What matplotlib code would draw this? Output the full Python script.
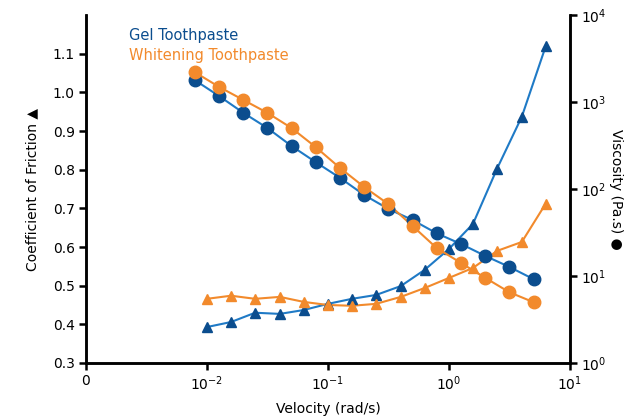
import numpy as np
import matplotlib
matplotlib.use("Agg")
import matplotlib.pyplot as plt

# ------------------ Datos ------------------

# velocidades (rad/s) de los puntos de viscosidad (circulos)
vel_visc = [0.0079, 0.0126, 0.020, 0.0316, 0.050, 0.079, 0.126, 0.20, 0.316,
            0.50, 0.79, 1.26, 2.0, 3.16, 5.0]
# velocidades (rad/s) de los puntos de friccion (triangulos)
vel_fric = [0.010, 0.0158, 0.025, 0.040, 0.063, 0.10, 0.158, 0.25, 0.40,
            0.63, 1.0, 1.58, 2.5, 4.0, 6.3]

visc_gel = [1790, 1170, 750, 502, 312, 204, 134, 85, 59, 44, 31, 23.3, 17.0, 12.7, 9.2]
visc_white = [2210, 1490, 1055, 750, 502, 304, 174, 105, 67, 37.6, 21.0, 14.1, 9.5, 6.5, 5.0]

fric_gel = [0.393, 0.406, 0.430, 0.427, 0.437, 0.453, 0.466, 0.476, 0.499,
            0.541, 0.595, 0.660, 0.803, 0.937, 1.119]
fric_white = [0.466, 0.474, 0.466, 0.471, 0.458, 0.450, 0.448, 0.453, 0.471,
              0.494, 0.520, 0.546, 0.590, 0.613, 0.712]

xticks = [1e-3, 1e-2, 1e-1, 1e0, 1e1]
xtick_labels = ["0", "$10^{-2}$", "$10^{-1}$", "$10^{0}$", "$10^{1}$"]
yticks_left = [0.3, 0.4, 0.5, 0.6, 0.7, 0.8, 0.9, 1.0, 1.1]
yticks_right = [1e0, 1e1, 1e2, 1e3, 1e4]
ytick_right_labels = ["$10^{0}$", "$10^{1}$", "$10^{2}$", "$10^{3}$", "$10^{4}$"]

# colores
azul_marca = "#0b4d8e"
azul_linea = "#1f7ac6"
naranja = "#f28a2c"


def main():
    plt.rcParams['font.family'] = ['DejaVu Sans']
    plt.rcParams['mathtext.fontset'] = 'dejavusans'

    fig = plt.figure(figsize=(6.35, 4.17), dpi=100)
    ax = fig.add_axes([0.1354, 0.1295, 0.7622, 0.8345])
    ax2 = ax.twinx()

    # Coeficiente de friccion (eje izquierdo, triangulos)
    ax.plot(vel_fric, fric_gel, color=azul_linea, lw=1.5, zorder=2)
    ax.plot(vel_fric, fric_gel, ls="none", marker="^", ms=7.5,
            color=azul_marca, zorder=3)
    ax.plot(vel_fric, fric_white, color=naranja, lw=1.5, zorder=2)
    ax.plot(vel_fric, fric_white, ls="none", marker="^", ms=7.5,
            color=naranja, zorder=3)

    # Viscosidad (eje derecho, circulos)
    ax2.plot(vel_visc, visc_gel, color=azul_linea, lw=1.5, zorder=2)
    ax2.plot(vel_visc, visc_gel, ls="none", marker="o", ms=9,
             color=azul_marca, zorder=3)
    ax2.plot(vel_visc, visc_white, color=naranja, lw=1.5, zorder=2)
    ax2.plot(vel_visc, visc_white, ls="none", marker="o", ms=9,
             color=naranja, zorder=3)

    ax.set_xscale("log")
    ax.set_xlim(1e-3, 1e1)
    ax.set_ylim(0.3, 1.2)
    ax2.set_yscale("log")
    ax2.set_ylim(1e0, 1e4)

    ax.set_xticks(xticks)
    ax.set_xticklabels(xtick_labels)
    ax.xaxis.set_minor_locator(matplotlib.ticker.NullLocator())
    ax.set_yticks(yticks_left)
    ax.set_yticklabels([f"{v:.1f}" for v in yticks_left])
    ax2.set_yticks(yticks_right)
    ax2.set_yticklabels(ytick_right_labels)
    ax2.yaxis.set_minor_locator(matplotlib.ticker.NullLocator())

    for a in (ax, ax2):
        a.spines["top"].set_visible(False)
        for s in ("left", "right", "bottom"):
            a.spines[s].set_linewidth(1.8)
        a.tick_params(axis="both", which="major", direction="out", length=5,
                      width=1.8, labelsize=10, pad=3)

    ax.set_xlabel("Velocity (rad/s)", fontsize=10, labelpad=7)
    ax.set_ylabel("Coefficient of Friction \u25B2", fontsize=10, labelpad=10)
    ax2.set_ylabel("Viscosity (Pa.s) \u25CF", fontsize=10, rotation=270,
                   labelpad=12)

    # leyenda como texto coloreado
    ax.text(0.088, 0.94, "Gel Toothpaste", color=azul_marca, fontsize=10.5,
            transform=ax.transAxes, va="center")
    ax.text(0.088, 0.885, "Whitening Toothpaste", color=naranja, fontsize=10.5,
            transform=ax.transAxes, va="center")

    fig.savefig("out.png", dpi=100)


if __name__ == "__main__":
    main()
